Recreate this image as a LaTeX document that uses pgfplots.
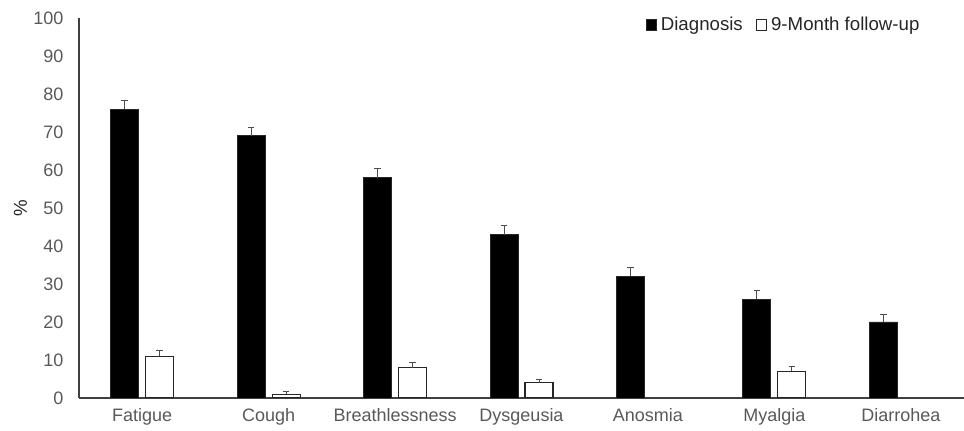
\documentclass[border=0pt]{standalone}
\usepackage{pgfplots}
\pgfplotsset{compat=1.18}
\usepackage{fontspec}
\setmainfont{Liberation Sans}
\definecolor{txt}{HTML}{595959}
\begin{document}
\fontsize{13.5}{16}\selectfont
\begin{tikzpicture}
\begin{axis}[
  scale only axis,
  width=663.75pt, height=285pt,
  at={(0,0)}, anchor=south west,
  xmin=-0.5, xmax=6.5, ymin=0, ymax=100,
  ytick={0,10,...,100},
  xtick={0,...,6},
  xticklabels={Fatigue,Cough,Breathlessness,Dysgeusia,Anosmia,Myalgia,Diarrohea},
  major tick length=0pt,
  axis x line*=bottom, axis y line*=left,
  axis line style={black!75, line width=0.9pt},
  /pgf/number format/assume math mode=true,
  tick label style={text=txt, font=\fontsize{13.5}{16}\selectfont},
  yticklabel style={xshift=-7pt},
  xticklabel style={yshift=-3pt},
  ylabel={\%},
  ylabel style={text=black!85, font=\fontsize{14}{16}\selectfont, at={(rel axis cs:0,0.5)}, anchor=center, rotate=0, yshift=44pt},
  ybar=5.25pt, bar width=21pt,
  error bars/y dir=plus, error bars/y explicit,
  error bars/error bar style={black!70, line width=0.7pt},
  error bars/error mark options={rotate=90, mark size=2.5pt, line width=0.7pt, black!70},
  legend columns=2,
  legend style={draw=none, fill=none, at={(0.953,0.982)}, anchor=east, inner xsep=0pt,
    font=\fontsize{14}{16}\selectfont, text=black!85,
    /tikz/every odd column/.append style={column sep=1pt},
    /tikz/every even column/.append style={column sep=8pt}},
  legend image code/.code={\draw[#1, line width=0.6pt] (0pt,-3.8pt) rectangle (7.6pt,3.8pt);},
]
\addplot[fill=black, draw=black!85, line width=0.6pt] coordinates {
 (0,76) +- (0,2.2)
 (1,69) +- (0,2.3)
 (2,58) +- (0,2.3)
 (3,43) +- (0,2.3)
 (4,32) +- (0,2.3)
 (5,26) +- (0,2.2)
 (6,20) +- (0,2.0)
};
\addlegendentry{Diagnosis}
\addplot[fill=white, draw=black!85, line width=0.8pt] coordinates {
 (0,11) +- (0,1.5)
 (1,1) +- (0,0.6)
 (2,8) +- (0,1.3)
 (3,4) +- (0,1.0)
 (5,7) +- (0,1.3)
};
\addlegendentry{9-Month follow-up}
\end{axis}
\pgfresetboundingbox
\path (-59.25pt,-24.75pt) rectangle (663.75pt,298.5pt);
\end{tikzpicture}
\end{document}
